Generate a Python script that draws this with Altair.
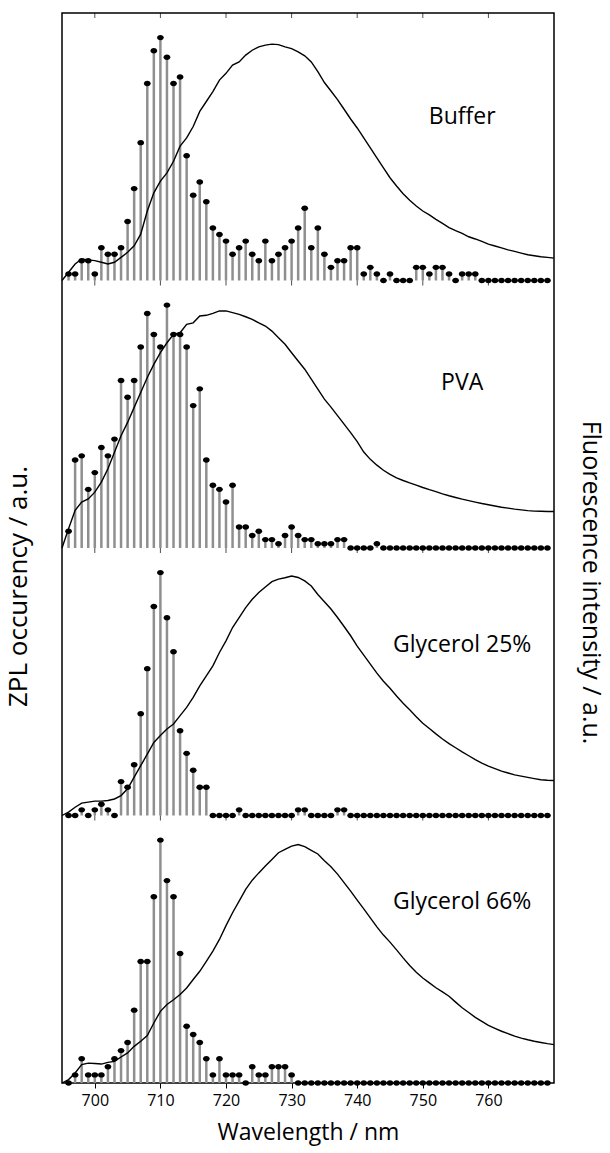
import altair as alt
import pandas as pd

# ---------------- data ----------------
panels = ["Buffer", "PVA", "Glycerol 25%", "Glycerol 66%"]

# ZPL histogram: wavelengths (nm) of the stems
stem_wl = list(range(696, 770))

# ZPL occurrence counts per panel, 696..769 nm
zpl_buffer = [1, 1, 3, 3, 1, 5, 4, 4, 5, 9, 14, 21, 30, 35, 37, 34, 30, 31, 19, 13,
              15, 12, 8, 7, 6, 4, 5, 6, 4, 3, 6, 3, 4, 5, 6, 8, 11, 5, 8, 4,
              2, 3, 3, 5, 5, 1, 2, 1, 0, 1, 0, 0, 0, 2, 2, 1, 2, 2, 1, 0,
              1, 1, 1, 0, 0, 0, 0, 0, 0, 0, 0, 0, 0, 0]
zpl_pva = [4, 21, 22, 14, 18, 24, 22, 26, 40, 36, 40, 48, 56, 51, 48, 58, 51, 51, 48, 34,
           38, 21, 15, 14, 11, 15, 5, 5, 3, 4, 2, 2, 1, 3, 5, 3, 2, 2, 1, 1,
           1, 2, 2, 0, 0, 0, 0, 1, 0, 0, 0, 0, 0, 0, 0, 0, 0, 0, 0, 0,
           0, 0, 0, 0, 0, 0, 0, 0, 0, 0, 0, 0, 0, 0]
zpl_gly25 = [0, 0, 1, 0, 1, 2, 1, 0, 6, 5, 9, 18, 26, 37, 43, 35, 29, 15, 11, 8,
             5, 5, 0, 0, 0, 0, 1, 0, 0, 0, 0, 0, 0, 0, 0, 1, 1, 0, 0, 0,
             0, 1, 1, 0, 0, 0, 0, 0, 0, 0, 0, 0, 0, 0, 0, 0, 0, 0, 0, 0,
             0, 0, 0, 0, 0, 0, 0, 0, 0, 0, 0, 0, 0, 0]
zpl_gly66 = [0, 1, 3, 1, 1, 1, 2, 3, 4, 5, 9, 15, 15, 23, 30, 25, 23, 16, 7, 6,
             5, 3, 1, 3, 1, 1, 1, 0, 2, 1, 1, 2, 2, 2, 1, 0, 0, 0, 0, 0,
             0, 0, 0, 0, 0, 0, 0, 0, 0, 0, 0, 0, 0, 0, 0, 0, 0, 0, 0, 0,
             0, 0, 0, 0, 0, 0, 0, 0, 0, 0, 0, 0, 0, 0]

# Fluorescence spectra (relative intensity), 695..770 nm
fl_wl = list(range(695, 771))
fl_buffer = [0.0, 0.034, 0.068, 0.089, 0.085, 0.082, 0.075, 0.068, 0.075, 0.095,
             0.116, 0.143, 0.191, 0.286, 0.361, 0.409, 0.443, 0.491, 0.553, 0.587,
             0.634, 0.696, 0.737, 0.778, 0.825, 0.853, 0.887, 0.900, 0.928, 0.948,
             0.962, 0.969, 0.973, 0.971, 0.962, 0.955, 0.941, 0.925, 0.900, 0.860,
             0.815, 0.780, 0.745, 0.705, 0.665, 0.628, 0.587, 0.546, 0.505, 0.464,
             0.423, 0.389, 0.357, 0.330, 0.307, 0.286, 0.270, 0.252, 0.235, 0.218,
             0.205, 0.194, 0.180, 0.171, 0.161, 0.150, 0.142, 0.134, 0.126, 0.120,
             0.113, 0.106, 0.102, 0.098, 0.095, 0.092]
fl_pva = [0.0, 0.079, 0.155, 0.189, 0.202, 0.230, 0.271, 0.326, 0.394, 0.462,
          0.517, 0.579, 0.640, 0.702, 0.756, 0.804, 0.845, 0.880, 0.886, 0.921,
          0.927, 0.955, 0.958, 0.966, 0.976, 0.976, 0.969, 0.962, 0.952, 0.941,
          0.927, 0.914, 0.893, 0.866, 0.839, 0.804, 0.770, 0.736, 0.695, 0.654,
          0.613, 0.580, 0.545, 0.510, 0.475, 0.438, 0.395, 0.365, 0.341, 0.320,
          0.303, 0.289, 0.278, 0.268, 0.259, 0.249, 0.240, 0.232, 0.223, 0.215,
          0.208, 0.201, 0.195, 0.189, 0.183, 0.178, 0.173, 0.168, 0.164, 0.160,
          0.157, 0.154, 0.152, 0.151, 0.150, 0.150]
fl_gly25 = [0.0, 0.014, 0.034, 0.051, 0.055, 0.059, 0.059, 0.062, 0.068, 0.082,
            0.110, 0.158, 0.205, 0.253, 0.301, 0.329, 0.356, 0.377, 0.411, 0.445,
            0.486, 0.534, 0.575, 0.616, 0.671, 0.719, 0.774, 0.815, 0.856, 0.890,
            0.918, 0.941, 0.963, 0.973, 0.979, 0.986, 0.980, 0.966, 0.945, 0.910,
            0.880, 0.850, 0.815, 0.778, 0.740, 0.697, 0.660, 0.623, 0.586, 0.553,
            0.524, 0.492, 0.462, 0.435, 0.407, 0.380, 0.358, 0.336, 0.315, 0.296,
            0.279, 0.262, 0.246, 0.230, 0.216, 0.203, 0.193, 0.183, 0.175, 0.167,
            0.162, 0.157, 0.152, 0.147, 0.145, 0.144]
fl_gly66 = [0.0, 0.014, 0.041, 0.076, 0.082, 0.080, 0.078, 0.085, 0.089, 0.107,
            0.124, 0.151, 0.172, 0.195, 0.247, 0.295, 0.323, 0.343, 0.364, 0.391,
            0.426, 0.460, 0.501, 0.543, 0.591, 0.648, 0.701, 0.749, 0.797, 0.835,
            0.865, 0.893, 0.920, 0.948, 0.962, 0.975, 0.982, 0.973, 0.958, 0.943,
            0.915, 0.890, 0.860, 0.825, 0.790, 0.753, 0.717, 0.680, 0.643, 0.609,
            0.580, 0.548, 0.515, 0.484, 0.456, 0.432, 0.412, 0.392, 0.375, 0.357,
            0.333, 0.310, 0.290, 0.270, 0.254, 0.237, 0.225, 0.213, 0.203, 0.193,
            0.185, 0.178, 0.172, 0.167, 0.162, 0.158]

tick_values = [700, 710, 720, 730, 740, 750, 760]

# ---------------- tables ----------------
zpl_all = [zpl_buffer, zpl_pva, zpl_gly25, zpl_gly66]
fl_all = [fl_buffer, fl_pva, fl_gly25, fl_gly66]
n = len(panels)
FRAC = 0.908  # tallest stem as fraction of panel height

stem_rows, fl_rows, lab_rows, tick_rows = [], [], [], []
label_frac = [0.613, 0.617, 0.636, 0.677]
for i, name in enumerate(panels):
    base = n - 1 - i
    m = max(zpl_all[i])
    for wl, c in zip(stem_wl, zpl_all[i]):
        stem_rows.append({"panel": name, "wl": wl, "base": base,
                          "top": base + FRAC * c / m})
    for wl, v in zip(fl_wl, fl_all[i]):
        fl_rows.append({"panel": name, "wl": wl, "y": base + FRAC * v})
    lab_rows.append({"panel": name, "wl": 756, "y": base + label_frac[i]})
for b in range(1, n + 1):
    for t in tick_values:
        tick_rows.append({"wl": t, "y": b})

stem_df = pd.DataFrame(stem_rows)
fl_df = pd.DataFrame(fl_rows)
lab_df = pd.DataFrame(lab_rows)
tick_df = pd.DataFrame(tick_rows)

# ---------------- chart ----------------
W, H = 492, 1070
FONT = "Open Sans"
xscale = alt.Scale(domain=[695, 770], nice=False, zero=False)
yscale = alt.Scale(domain=[0, n], nice=False, zero=False)

xaxis = alt.Axis(values=tick_values, format="d", title="Wavelength / nm",
                 domain=False, grid=False, ticks=True, tickSize=5,
                 tickColor="black", tickWidth=1, labelFontSize=16,
                 labelFont=FONT, labelColor="black", labelPadding=4,
                 titleFont=FONT, titleFontSize=23, titleFontWeight="normal",
                 titleColor="black", titlePadding=13)
left_axis = alt.Axis(title="ZPL occurency / a.u.", labels=False, ticks=False,
                     domain=False, grid=False, titleFont=FONT, titleFontSize=26,
                     titleFontWeight="normal", titleColor="black",
                     titleAngle=270, titleX=-44, titleY=573,
                     titleAlign="center", titleBaseline="middle")
right_axis = alt.Axis(orient="right", title="Fluorescence intensity / a.u.",
                      labels=False, ticks=False, domain=False, grid=False,
                      titleFont=FONT, titleFontSize=25, titleFontWeight="normal",
                      titleColor="black", titleAngle=90, titleX=36,
                      titleY=569, titleAlign="center", titleBaseline="middle")

stems = alt.Chart(stem_df).mark_rule(color="#8f8f8f", strokeWidth=2.5).encode(
    x=alt.X("wl:Q", scale=xscale, axis=xaxis),
    y=alt.Y("base:Q", scale=yscale, axis=left_axis),
    y2="top:Q",
)
ellipse = "M -1 0 A 1 0.8 0 1 1 1 0 A 1 0.8 0 1 1 -1 0 Z"
dots = alt.Chart(stem_df).mark_point(shape=ellipse, filled=True, color="black",
                                     size=46, opacity=1).encode(
    x=alt.X("wl:Q", scale=xscale),
    y=alt.Y("top:Q", scale=yscale),
)
ticks = alt.Chart(tick_df).mark_tick(orient="vertical", size=5, thickness=1,
                                     color="black", yOffset=2.5).encode(
    x=alt.X("wl:Q", scale=xscale),
    y=alt.Y("y:Q", scale=yscale),
)
labels = alt.Chart(lab_df).mark_text(font=FONT, fontSize=23, color="black",
                                     align="center", baseline="middle").encode(
    x=alt.X("wl:Q", scale=xscale),
    y=alt.Y("y:Q", scale=yscale),
    text="panel:N",
)
curve = alt.Chart(fl_df).mark_line(color="black", strokeWidth=1.4).encode(
    x=alt.X("wl:Q", scale=xscale),
    y=alt.Y("y:Q", scale=yscale, axis=right_axis),
    detail="panel:N",
)

chart = alt.layer(
    alt.layer(stems, dots, ticks, labels),
    curve,
).resolve_scale(y="independent").properties(
    width=W, height=H,
    padding={"left": 62, "top": 13, "right": 56, "bottom": 70},
    autosize="none",
).configure_view(stroke="black", strokeWidth=1.5)

chart.save("out.html", embed_options={"renderer": "svg", "actions": False})
